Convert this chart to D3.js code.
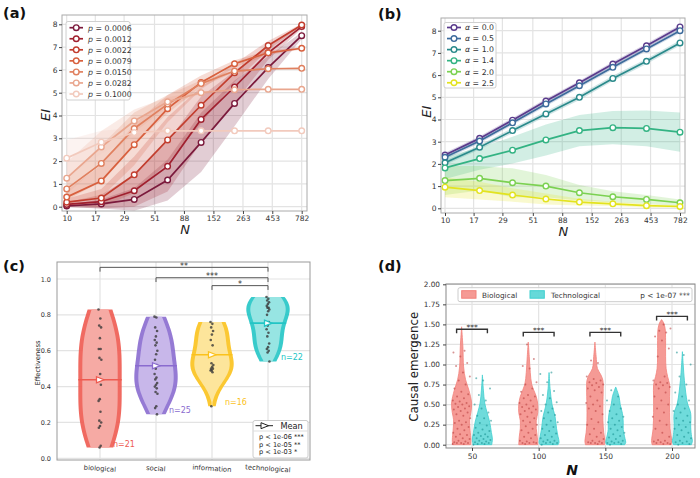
<!DOCTYPE html>
<html><head><meta charset="utf-8">
<script src="https://cdn.jsdelivr.net/npm/d3@7"></script>
<style>body{margin:0;background:#fff}</style>
</head><body>
<script>
// ---------------- DATA ----------------
const nTicks = [10,17,29,51,88,152,263,453,782];
const nTickLabels = ["10","17","29","51","88","152","263","453","782"];
const nPoints = [10,19,35,65,121,225,420,782];
const eiTicks = [0,1,2,3,4,5,6,7,8];

const pLabels = ["0.0006","0.0012","0.0022","0.0079","0.0150","0.0282","0.1000"];
const eiP0006 = [0.03,0.12,0.32,1.17,2.82,4.53,6.1,7.5];
const eiP0012 = [0.1,0.22,0.7,1.77,3.83,5.25,6.75,7.9];
const eiP0022 = [0.2,0.38,1.4,2.93,4.45,5.87,7.07,7.97];
const eiP0079 = [0.42,1.13,2.72,4.3,5.45,6.27,6.75,6.95];
const eiP0150 = [0.78,1.9,3.43,4.5,5.4,5.95,6.05,6.07];
const eiP0282 = [1.25,2.62,3.76,4.6,5.0,5.13,5.15,5.15];
const eiP1000 = [2.13,2.83,3.25,3.33,3.33,3.33,3.33,3.33];
const sdP0006 = [0.05,0.2,0.5,0.9,1.3,1.0,0.5,0.15];
const sdP0012 = [0.1,0.3,0.7,1.1,1.0,0.7,0.3,0.1];
const sdP0022 = [0.15,0.4,0.8,1.0,0.8,0.4,0.2,0.05];
const sdP0079 = [0.3,0.7,0.9,0.6,0.3,0.15,0.1,0.05];
const sdP0150 = [0.5,0.8,0.7,0.4,0.15,0.05,0.02,0.02];
const sdP0282 = [0.7,0.7,0.5,0.2,0.05,0.02,0.01,0.01];
const sdP1000 = [0.8,0.5,0.2,0.05,0.02,0.01,0.01,0.01];

const alphaLabels = ["0.0","0.5","1.0","1.4","2.0","2.5"];
const eiA00 = [2.4,3.15,3.97,4.83,5.65,6.5,7.32,8.17];
const eiA05 = [2.3,3.03,3.85,4.7,5.52,6.35,7.18,8.0];
const eiA10 = [2.05,2.75,3.5,4.25,5.0,5.85,6.62,7.45];
const eiA14 = [1.82,2.24,2.62,3.08,3.5,3.63,3.6,3.43];
const eiA20 = [1.25,1.35,1.15,1.0,0.7,0.52,0.4,0.25];
const eiA25 = [0.95,0.8,0.6,0.42,0.28,0.2,0.12,0.08];
const sdA00 = [0.1,0.1,0.1,0.1,0.1,0.1,0.1,0.1];
const sdA05 = [0.1,0.1,0.1,0.1,0.1,0.1,0.1,0.1];
const sdA10 = [0.1,0.1,0.12,0.12,0.12,0.12,0.12,0.12];
const sdA14 = [0.5,0.5,0.6,0.7,0.7,0.75,0.8,0.88];
const sdA20 = [0.65,0.55,0.65,0.5,0.35,0.25,0.2,0.15];
const sdA25 = [0.45,0.4,0.3,0.25,0.15,0.1,0.08,0.05];

const cCategories = ["biological","social","information","technological"];
const effBiological = [0.83,0.78,0.74,0.73,0.67,0.61,0.61,0.56,0.55,0.47,0.44,0.41,0.33,0.32,0.26,0.21,0.20,0.18,0.17,0.07,0.06];
const effSocial = [0.79,0.785,0.73,0.71,0.68,0.66,0.645,0.63,0.6,0.58,0.55,0.52,0.5,0.47,0.45,0.44,0.42,0.41,0.40,0.39,0.37,0.36,0.29,0.28,0.245];
const effInformation = [0.76,0.75,0.73,0.71,0.69,0.66,0.63,0.53,0.52,0.51,0.50,0.50,0.49,0.49,0.48,0.29];
const effTechnological = [0.90,0.89,0.88,0.87,0.86,0.85,0.84,0.84,0.83,0.82,0.80,0.76,0.74,0.72,0.70,0.68,0.64,0.62,0.61,0.60,0.59,0.54];
const effTicks = [0,0.2,0.4,0.6,0.8,1.0];
const cSigPairs = [[0,3,"**",1.065],[1,3,"***",1.007],[2,3,"*",0.963]];
const cLegendLines = ["p < 1e-06 ***","p < 1e-05 **","p < 1e-03 *"];

const dGroups = ["50","100","150","200"];
const dTicks = [0,0.25,0.5,0.75,1.0,1.25,1.5,1.75,2.0];
const dSigY = [1.44,1.40,1.40,1.60];
const dBioProfiles = [
  [[0,0.9],[0.06,0.93],[0.18,0.85],[0.31,0.8],[0.4,0.93],[0.52,1.0],[0.68,0.73],[0.81,0.4],[0.97,0.2],[1.22,0.13],[1.47,0]],
  [[0,0.95],[0.1,0.9],[0.2,0.8],[0.3,0.8],[0.4,0.95],[0.5,0.95],[0.6,0.8],[0.75,0.35],[0.9,0.2],[1.1,0.1],[1.28,0]],
  [[0,0.95],[0.05,1.0],[0.15,0.88],[0.3,0.8],[0.5,0.8],[0.7,0.83],[0.8,0.8],[0.87,0.6],[0.95,0.25],[1.1,0.12],[1.28,0]],
  [[0,0.95],[0.05,1.0],[0.2,0.85],[0.4,0.8],[0.6,0.8],[0.75,0.8],[0.85,0.6],[0.95,0.45],[1.1,0.4],[1.3,0.4],[1.45,0.35],[1.52,0.2],[1.56,0]]
];
const dTechProfiles = [
  [[0,0.93],[0.07,1.0],[0.15,0.9],[0.28,0.73],[0.4,0.47],[0.52,0.23],[0.68,0.1],[0.87,0]],
  [[0,0.9],[0.03,1.0],[0.1,0.9],[0.2,0.75],[0.35,0.6],[0.5,0.3],[0.7,0.1],[0.9,0]],
  [[0,0.9],[0.03,1.0],[0.08,0.92],[0.19,0.75],[0.28,0.75],[0.39,0.67],[0.5,0.45],[0.6,0.33],[0.72,0]],
  [[0,0.9],[0.05,1.0],[0.1,0.92],[0.22,0.83],[0.39,0.83],[0.52,0.5],[0.8,0.2],[1.0,0.08],[1.16,0]]
];
const dBioPoints = [
  [0.01,0.01,0.02,0.02,0.02,0.03,0.04,0.05,0.07,0.08,0.1,0.12,0.13,0.15,0.18,0.2,0.22,0.25,0.27,0.28,0.3,0.33,0.36,0.38,0.4,0.42,0.44,0.45,0.47,0.48,0.5,0.51,0.52,0.54,0.55,0.58,0.6,0.63,0.66,0.7,0.75,0.8,0.85,0.9,0.98,1.02,1.1,1.15,1.17],
  [0.01,0.02,0.02,0.02,0.03,0.04,0.05,0.08,0.1,0.12,0.15,0.18,0.2,0.23,0.25,0.28,0.3,0.33,0.35,0.38,0.4,0.42,0.44,0.45,0.47,0.48,0.5,0.52,0.55,0.58,0.6,0.62,0.66,0.7,0.75,0.78,0.95,0.98,1.07,1.25],
  [0.01,0.02,0.02,0.02,0.03,0.04,0.05,0.07,0.1,0.13,0.15,0.2,0.25,0.28,0.32,0.38,0.42,0.45,0.48,0.5,0.52,0.55,0.6,0.65,0.68,0.7,0.72,0.74,0.75,0.77,0.78,0.8,0.82,0.85,1.02,1.05],
  [0.01,0.01,0.02,0.02,0.03,0.04,0.05,0.06,0.1,0.15,0.2,0.25,0.3,0.35,0.4,0.45,0.5,0.55,0.6,0.65,0.7,0.72,0.74,0.75,0.77,0.78,0.8,0.85,1.1,1.2,1.3,1.35,1.4,1.42,1.45,1.5]
];
const dTechPoints = [
  [0.0,0.01,0.01,0.02,0.02,0.03,0.04,0.05,0.06,0.07,0.08,0.1,0.11,0.12,0.13,0.15,0.17,0.19,0.21,0.24,0.27,0.3,0.33,0.36,0.4,0.45,0.5,0.55,0.62,0.7,0.8,0.83],
  [0.0,0.01,0.02,0.02,0.03,0.04,0.05,0.06,0.08,0.1,0.12,0.14,0.17,0.2,0.22,0.25,0.28,0.3,0.33,0.37,0.4,0.42,0.45,0.5,0.53,0.58,0.62,0.67,0.78,0.88,0.9],
  [0.0,0.01,0.02,0.02,0.03,0.04,0.05,0.07,0.09,0.11,0.13,0.15,0.18,0.2,0.22,0.25,0.28,0.3,0.33,0.35,0.38,0.42,0.45,0.5,0.55,0.6,0.68],
  [0.0,0.01,0.02,0.03,0.04,0.05,0.08,0.1,0.12,0.15,0.18,0.2,0.22,0.25,0.28,0.3,0.33,0.36,0.4,0.42,0.45,0.5,0.55,0.6,0.65,0.75,0.85,1.0,1.12,1.15]
];

// ---------------- STYLE ----------------
const FONT = '"DejaVu Sans", sans-serif';
const pColors = ["#7b1a3c","#a0202f","#c23d2e","#d8603e","#e0805f","#e9a68e","#f2cabd"];
const aColors = ["#5a3b8c","#3d6b9c","#2a8a8b","#33b383","#7bd151","#e3e31f"];
const cDark = ["#ee5a50","#8a6bcf","#fbc21c","#22c5c5"];
const cLight = ["#f6aaa4","#c8b7ea","#fde59b","#97e5e3"];
const dBioColor = "#f2817b", dTechColor = "#3fcfcf";

const svg = d3.select("body").append("svg").attr("width",700).attr("height",478);
svg.append("rect").attr("width",700).attr("height",478).attr("fill","#fff");

function styleAxis(ax, size){
  ax.select(".domain").remove();
  ax.selectAll(".tick line").attr("stroke","#444");
  ax.selectAll(".tick text").attr("font-family",FONT).attr("font-size",size).attr("fill","#333");
}
const jit = i => ((i*0.6180339887) % 1) - 0.5;

// ---------------- LINE PANELS ----------------
function linePanel(o){
  const g = svg.append("g");
  const f = o.frame;
  const x = d3.scaleLog().domain([10,782]).range(o.xr);
  const y = d3.scaleLinear().domain([0,8]).range(o.yr);
  g.append("clipPath").attr("id",o.id).append("rect")
    .attr("x",f.l).attr("y",f.t).attr("width",f.r-f.l).attr("height",f.b-f.t);
  g.append("g").selectAll("line").data(nTicks).join("line")
    .attr("x1",d=>x(d)).attr("x2",d=>x(d)).attr("y1",f.t).attr("y2",f.b)
    .attr("stroke","#e3e3e3").attr("stroke-width",1.2);
  g.append("g").selectAll("line").data(eiTicks).join("line")
    .attr("y1",d=>y(d)).attr("y2",d=>y(d)).attr("x1",f.l).attr("x2",f.r)
    .attr("stroke","#e3e3e3").attr("stroke-width",1.2);
  const plot = g.append("g").attr("clip-path",`url(#${o.id})`);
  o.values.forEach((vals,si)=>{
    const sd = o.std[si];
    plot.append("path").datum(vals)
      .attr("d",d3.area().x((d,i)=>x(nPoints[i])).y0((d,i)=>y(d-sd[i])).y1((d,i)=>y(d+sd[i])))
      .attr("fill",o.colors[si]).attr("fill-opacity",0.22);
  });
  o.values.forEach((vals,si)=>{
    plot.append("path").datum(vals)
      .attr("d",d3.line().x((d,i)=>x(nPoints[i])).y(d=>y(d)))
      .attr("fill","none").attr("stroke",o.colors[si]).attr("stroke-width",1.7);
    plot.append("g").selectAll("circle").data(vals).join("circle")
      .attr("cx",(d,i)=>x(nPoints[i])).attr("cy",d=>y(d)).attr("r",2.8)
      .attr("fill","#fff").attr("stroke",o.colors[si]).attr("stroke-width",1.4);
  });
  g.append("rect").attr("x",f.l).attr("y",f.t).attr("width",f.r-f.l).attr("height",f.b-f.t)
    .attr("fill","none").attr("stroke","#aaa").attr("stroke-width",1);
  const xa = g.append("g").attr("transform",`translate(0,${f.b})`)
    .call(d3.axisBottom(x).tickValues(nTicks).tickFormat((d,i)=>nTickLabels[i]).tickSize(3).tickPadding(1.5));
  styleAxis(xa,7.5);
  const ya = g.append("g").attr("transform",`translate(${f.l},0)`)
    .call(d3.axisLeft(y).tickValues(eiTicks).tickFormat(d3.format("d")).tickSize(3).tickPadding(1.5));
  styleAxis(ya,7.5);
  g.append("text").attr("transform",`translate(${o.yl[0]},${o.yl[1]}) rotate(-90)`)
    .attr("text-anchor","middle").attr("font-family",FONT).attr("font-style","italic")
    .attr("font-size",13).attr("fill","#222").text("EI");
  g.append("text").attr("x",o.xl[0]).attr("y",o.xl[1]).attr("text-anchor","middle")
    .attr("font-family",FONT).attr("font-style","italic").attr("font-size",13).attr("fill","#222").text("N");
  g.append("text").attr("x",o.letter[0]).attr("y",o.letter[1]).attr("font-family",FONT)
    .attr("font-weight","bold").attr("font-size",14.5).attr("fill","#111").text(o.letterText);
  const L = o.legend;
  const lg = g.append("g");
  lg.append("rect").attr("x",L.x).attr("y",L.y).attr("width",L.w).attr("height",L.h).attr("rx",2)
    .attr("fill","#fff").attr("fill-opacity",0.85).attr("stroke","#d0d0d0");
  o.labels.forEach((lab,i)=>{
    const yy = L.row0 + i*L.dy;
    lg.append("line").attr("x1",L.lx0).attr("x2",L.lx1).attr("y1",yy).attr("y2",yy)
      .attr("stroke",o.colors[i]).attr("stroke-width",1.7);
    lg.append("circle").attr("cx",(L.lx0+L.lx1)/2).attr("cy",yy).attr("r",2.8)
      .attr("fill","#fff").attr("stroke",o.colors[i]).attr("stroke-width",1.4);
    const t = lg.append("text").attr("x",L.tx).attr("y",yy+2.8).attr("font-family",FONT)
      .attr("font-size",7.8).attr("fill","#333");
    t.append("tspan").attr("font-style","italic").text(o.sym);
    t.append("tspan").text(" = "+lab);
  });
}

linePanel({
  id:"clipA", frame:{l:62,r:307,t:15,b:211}, xr:[66.7,301.7], yr:[206.7,24.3],
  values:[eiP0006,eiP0012,eiP0022,eiP0079,eiP0150,eiP0282,eiP1000],
  std:[sdP0006,sdP0012,sdP0022,sdP0079,sdP0150,sdP0282,sdP1000],
  colors:pColors, labels:pLabels, sym:"p",
  yl:[50,115], xl:[185,234], letter:[3,18], letterText:"(a)",
  legend:{x:66,y:21.5,w:64,h:78.5,row0:27.7,dy:11.05,lx0:69.5,lx1:83,tx:88}
});
linePanel({
  id:"clipB", frame:{l:441,r:685,t:18,b:213}, xr:[445,680], yr:[208.3,30.7],
  values:[eiA00,eiA05,eiA10,eiA14,eiA20,eiA25],
  std:[sdA00,sdA05,sdA10,sdA14,sdA20,sdA25],
  colors:aColors, labels:alphaLabels, sym:"α",
  yl:[431,111.7], xl:[563.3,236], letter:[378,19], letterText:"(b)",
  legend:{x:444,y:22.5,w:52,h:65.5,row0:27.5,dy:11.05,lx0:447,lx1:461,tx:465}
});

// ---------------- PANEL C ----------------
(function(){
  const g = svg.append("g");
  const f = {l:57,r:310,t:262,b:460};
  const x = d3.scalePoint().domain(cCategories).range([100,268]);
  const y = d3.scaleLinear().domain([0,1]).range([458.3,279]);
  const sets = [effBiological,effSocial,effInformation,effTechnological];
  g.append("g").selectAll("line").data(effTicks).join("line")
    .attr("x1",f.l).attr("x2",f.r).attr("y1",d=>y(d)).attr("y2",d=>y(d)).attr("stroke","#e3e3e3").attr("stroke-width",1.2);
  g.append("g").selectAll("line").data(cCategories).join("line")
    .attr("x1",d=>x(d)).attr("x2",d=>x(d)).attr("y1",f.t).attr("y2",f.b).attr("stroke","#e3e3e3").attr("stroke-width",1.2);
  const HW = 21.7;
  sets.forEach((vals,ci)=>{
    const cx = x(cCategories[ci]);
    const n = vals.length;
    const bw = 1.2*d3.deviation(vals)*Math.pow(n,-0.2);
    const lo = d3.min(vals), hi = d3.max(vals);
    const ys = d3.range(0,81).map(k=>lo+(hi-lo)*k/80);
    const dens = ys.map(v=>d3.mean(vals,u=>Math.exp(-0.5*((v-u)/bw)**2)));
    const mx = d3.max(dens);
    const prof = ys.map((v,k)=>[v,dens[k]/mx*HW]);
    g.append("path").datum(prof)
      .attr("d",d3.area().y(d=>y(d[0])).x0(d=>cx-d[1]).x1(d=>cx+d[1]))
      .attr("fill",cDark[ci]).attr("fill-opacity",0.9);
    g.append("path").datum(prof)
      .attr("d",d3.area().y(d=>y(d[0])).x0(d=>cx-Math.max(d[1]-4,0.5)).x1(d=>cx+Math.max(d[1]-4,0.5)))
      .attr("fill",cLight[ci]);
    g.append("g").selectAll("circle").data(vals).join("circle")
      .attr("cx",(d,i)=>cx+jit(i)*3).attr("cy",d=>y(d)).attr("r",1.3).attr("fill","#3a3a3a").attr("fill-opacity",0.8);
    const m = d3.mean(vals);
    const hwM = prof[Math.round((m-lo)/(hi-lo)*80)][1];
    g.append("line").attr("x1",cx-hwM).attr("x2",cx+hwM).attr("y1",y(m)).attr("y2",y(m))
      .attr("stroke",cDark[ci]).attr("stroke-width",1.6);
    g.append("path").attr("d","M-3.5,-3L4,0L-3.5,3Z").attr("transform",`translate(${cx},${y(m)})`)
      .attr("fill","#fff").attr("stroke",cDark[ci]).attr("stroke-width",1.3);
    g.append("text").attr("x",cx+13).attr("y",y(lo)-1).attr("font-family",FONT).attr("font-size",8)
      .attr("fill",cDark[ci]).text("n="+n);
  });
  cSigPairs.forEach(([a,b,lab,v])=>{
    const x1 = x(cCategories[a]), x2 = x(cCategories[b]), yy = y(v);
    g.append("path").attr("d",`M${x1},${yy+4.3}V${yy}H${x2}V${yy+4.3}`).attr("fill","none")
      .attr("stroke","#555").attr("stroke-width",1);
    g.append("text").attr("x",(x1+x2)/2).attr("y",yy+1.5).attr("text-anchor","middle")
      .attr("font-family",FONT).attr("font-size",8).attr("fill","#333").text(lab);
  });
  g.append("rect").attr("x",f.l).attr("y",f.t).attr("width",f.r-f.l).attr("height",f.b-f.t)
    .attr("fill","none").attr("stroke","#999");
  const ya = g.append("g").attr("transform",`translate(${f.l},0)`)
    .call(d3.axisLeft(y).tickValues(effTicks).tickFormat(d3.format(".1f")).tickSize(0).tickPadding(6));
  styleAxis(ya,6.5);
  const xa = g.append("g").attr("transform",`translate(0,${f.b})`)
    .call(d3.axisBottom(x).tickSize(0).tickPadding(6));
  styleAxis(xa,6.8);
  xa.selectAll(".tick text").attr("transform","rotate(4)");
  g.append("text").attr("transform","translate(40,363) rotate(-90)").attr("text-anchor","middle")
    .attr("font-family",FONT).attr("font-size",6.8).attr("fill","#222").text("Effectiveness");
  g.append("text").attr("x",3).attr("y",270.5).attr("font-family",FONT).attr("font-weight","bold")
    .attr("font-size",14.5).attr("fill","#111").text("(c)");
  const lg = g.append("g");
  lg.append("rect").attr("x",253).attr("y",420.5).attr("width",55).attr("height",37.5).attr("rx",2)
    .attr("fill","#fff").attr("stroke","#ccc");
  lg.append("line").attr("x1",253).attr("x2",308).attr("y1",431).attr("y2",431).attr("stroke","#ddd");
  lg.append("line").attr("x1",255.5).attr("x2",273).attr("y1",425.7).attr("y2",425.7).attr("stroke","#222").attr("stroke-width",1);
  lg.append("path").attr("d","M-3.5,-3L4,0L-3.5,3Z").attr("transform","translate(264.5,425.7)")
    .attr("fill","#fff").attr("stroke","#222").attr("stroke-width",1);
  lg.append("text").attr("x",280.5).attr("y",428.6).attr("font-family",FONT).attr("font-size",8.2)
    .attr("fill","#222").text("Mean");
  cLegendLines.forEach((t,i)=>{
    lg.append("text").attr("x",259).attr("y",439+i*7.6).attr("font-family",FONT).attr("font-size",6.6)
      .attr("fill","#222").text(t);
  });
})();

// ---------------- PANEL D ----------------
(function(){
  const g = svg.append("g");
  const f = {l:446,r:695,t:284,b:448};
  const x = d3.scalePoint().domain(dGroups).range([472,672]);
  const y = d3.scaleLinear().domain([0,2]).range([444.7,284.3]);
  g.append("g").selectAll("line").data(dTicks).join("line")
    .attr("x1",f.l).attr("x2",f.r).attr("y1",d=>y(d)).attr("y2",d=>y(d)).attr("stroke","#e3e3e3").attr("stroke-width",1.2);
  g.append("g").selectAll("line").data(dGroups).join("line")
    .attr("x1",d=>x(d)).attr("x2",d=>x(d)).attr("y1",f.t).attr("y2",f.b).attr("stroke","#e3e3e3").attr("stroke-width",1.2);
  const OFF = 10.4, HW = 10;
  const area = cx => d3.area().curve(d3.curveCatmullRom).y(d=>y(d[0])).x0(d=>cx-d[1]*HW).x1(d=>cx+d[1]*HW);
  dGroups.forEach((grp,gi)=>{
    const cb = x(grp)-OFF, ct = x(grp)+OFF;
    g.append("path").datum(dBioProfiles[gi]).attr("d",area(cb))
      .attr("fill",dBioColor).attr("fill-opacity",0.8).attr("stroke",dBioColor).attr("stroke-width",0.8);
    g.append("path").datum(dTechProfiles[gi]).attr("d",area(ct))
      .attr("fill",dTechColor).attr("fill-opacity",0.75).attr("stroke",dTechColor).attr("stroke-width",0.8);
    g.append("g").selectAll("circle").data(dBioPoints[gi]).join("circle")
      .attr("cx",(d,i)=>cb+jit(i+gi*7)*18).attr("cy",d=>y(d)).attr("r",1)
      .attr("fill","#b73b3b").attr("fill-opacity",0.55);
    g.append("g").selectAll("circle").data(dTechPoints[gi]).join("circle")
      .attr("cx",(d,i)=>ct+jit(i+gi*5)*18).attr("cy",d=>y(d)).attr("r",1)
      .attr("fill","#138c8c").attr("fill-opacity",0.55);
    const yy = y(dSigY[gi]);
    g.append("path").attr("d",`M${cb-5},${yy+4}V${yy}H${ct+5}V${yy+4}`).attr("fill","none")
      .attr("stroke","#333").attr("stroke-width",1.4);
    g.append("text").attr("x",x(grp)).attr("y",yy+1).attr("text-anchor","middle")
      .attr("font-family",FONT).attr("font-size",7.5).attr("fill","#333").text("***");
  });
  g.append("rect").attr("x",f.l).attr("y",f.t).attr("width",f.r-f.l).attr("height",f.b-f.t)
    .attr("fill","none").attr("stroke","#888");
  const ya = g.append("g").attr("transform",`translate(${f.l},0)`)
    .call(d3.axisLeft(y).tickValues(dTicks).tickFormat(d3.format(".2f")).tickSize(3).tickPadding(3));
  styleAxis(ya,7.3);
  const xa = g.append("g").attr("transform",`translate(0,${f.b})`)
    .call(d3.axisBottom(x).tickSize(3).tickPadding(3));
  styleAxis(xa,7.5);
  g.append("text").attr("transform","translate(417.5,366.7) rotate(-90)").attr("text-anchor","middle")
    .attr("font-family",FONT).attr("font-size",11.8).attr("fill","#222").text("Causal emergence");
  g.append("text").attr("x",572).attr("y",475).attr("text-anchor","middle").attr("font-family",FONT)
    .attr("font-style","italic").attr("font-weight","bold").attr("font-size",14).attr("fill","#111").text("N");
  g.append("text").attr("x",378).attr("y",271).attr("font-family",FONT).attr("font-weight","bold")
    .attr("font-size",14.5).attr("fill","#111").text("(d)");
  const lg = g.append("g");
  lg.append("rect").attr("x",458).attr("y",287.7).attr("width",234).attr("height",14).attr("rx",2)
    .attr("fill","#fff").attr("fill-opacity",0.85).attr("stroke","#ccc");
  [[461.7,dBioColor,"Biological",482],[530,dTechColor,"Technological",551]].forEach(([px,c,t,tx])=>{
    lg.append("rect").attr("x",px).attr("y",290.7).attr("width",14.3).attr("height",7.5)
      .attr("fill",c).attr("fill-opacity",0.8).attr("stroke",c);
    lg.append("text").attr("x",tx).attr("y",297.6).attr("font-family",FONT).attr("font-size",7.3)
      .attr("fill","#333").text(t);
  });
  lg.append("text").attr("x",690).attr("y",297.6).attr("text-anchor","end").attr("font-family",FONT)
    .attr("font-size",7.3).attr("fill","#333").text("p < 1e-07 ***");
})();
</script>
</body></html>
